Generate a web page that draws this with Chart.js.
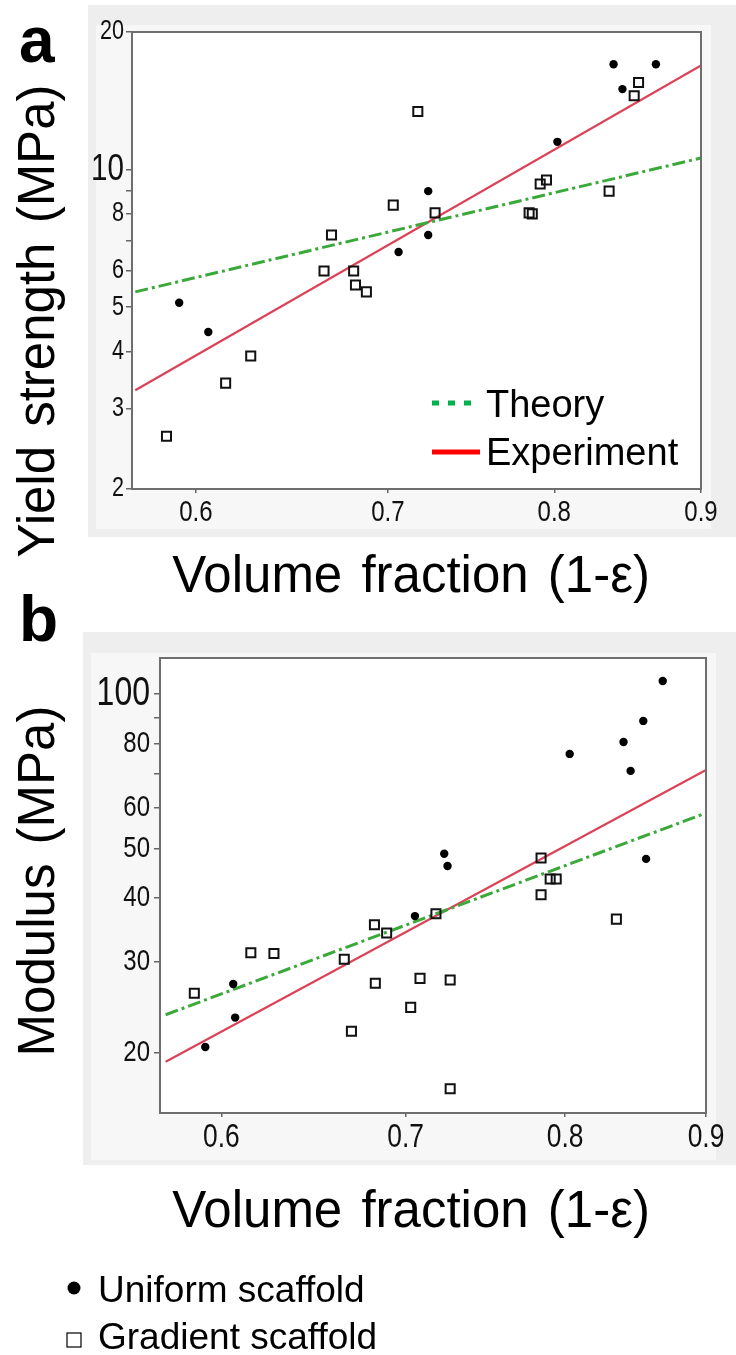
<!DOCTYPE html>
<html>
<head>
<meta charset="utf-8">
<script src="https://cdn.jsdelivr.net/npm/chart.js@4.4.1/dist/chart.umd.min.js"></script>
<style>
  html, body { margin: 0; padding: 0; background: #fff; }
  body { width: 736px; height: 1355px; position: relative; overflow: hidden; }
  .box { position: absolute; left: 0; width: 736px; }
</style>
</head>
<body>
<div class="box" style="top:0;height:610px"><canvas id="chartA" width="736" height="610"></canvas></div>
<div class="box" style="top:590px;height:765px"><canvas id="chartB" width="736" height="765"></canvas></div>
<script>
// x axis (log), shared by both panels
const xTicks = [0.6, 0.7, 0.8, 0.9];

// panel a: yield strength
const aYTicks = [2, 3, 4, 5, 6, 7, 8, 9, 10, 20];
const aYLabels = [2, 3, 4, 5, 6, 8, 10, 20];
const aUniformX = [0.839, 0.868, 0.845, 0.802, 0.723, 0.723, 0.706, 0.592, 0.606];
const aUniformY = [17.0, 17.0, 15.0, 11.5, 8.97, 7.19, 6.60, 5.11, 4.41];
const aGradientX = [0.856, 0.853, 0.717, 0.795, 0.791, 0.836, 0.703, 0.727, 0.784, 0.786, 0.669, 0.665, 0.681, 0.682, 0.688, 0.627, 0.6145, 0.586];
const aGradientY = [15.5, 14.5, 13.4, 9.49, 9.30, 8.97, 8.36, 8.04, 8.04, 8.0, 7.19, 6.0, 6.0, 5.59, 5.40, 3.91, 3.41, 2.61];
const aLineX = [0.5715, 0.9];
const aTheoryY = [5.40, 10.6];
const aExpY = [3.29, 16.9];

// panel b: modulus
const bYTicks = [20, 30, 40, 50, 60, 70, 80, 90, 100];
const bYLabels = [20, 30, 40, 50, 60, 80, 100];
const bUniformX = [0.868, 0.854, 0.840, 0.803, 0.845, 0.723, 0.725, 0.856, 0.7055, 0.606, 0.607, 0.592];
const bUniformY = [106, 88.6, 80.6, 76.4, 70.8, 48.8, 46.2, 47.7, 36.9, 27.2, 23.4, 20.5];
const bGradientX = [0.784, 0.794, 0.790, 0.784, 0.835, 0.718, 0.682, 0.689, 0.665, 0.615, 0.627, 0.5866, 0.6825, 0.7085, 0.7266, 0.703, 0.669, 0.7266];
const bGradientY = [47.9, 43.6, 43.6, 40.6, 36.4, 37.3, 35.5, 34.2, 30.4, 31.3, 31.2, 26.1, 27.3, 27.9, 27.7, 24.5, 22.0, 17.0];
const bLineX = [0.5727, 0.9];
const bTheoryY = [23.7, 58.6];
const bExpY = [19.2, 71.1];

const arial = "'Liberation Sans', Arial, sans-serif";

function pts(xs, ys) {
    return xs.map((x, i) => ({ x: x, y: ys[i] }));
}

const uniformStyle = { pointStyle: 'circle', pointRadius: 4.2, backgroundColor: '#000', borderColor: '#000', borderWidth: 0, showLine: false };
const gradientStyle = { pointStyle: 'rect', pointRadius: 6.4, backgroundColor: 'rgba(0,0,0,0)', borderColor: '#111', borderWidth: 2, showLine: false };
const theoryStyle = { showLine: true, pointRadius: 0, borderColor: '#3aa93a', borderWidth: 3, borderDash: [13, 4, 3, 4], keyColor: '#00b050', keyDash: [7, 9] };
const expStyle = { showLine: true, pointRadius: 0, borderColor: '#dc4257', borderWidth: 2.2, keyColor: '#ff0000', keyDash: [] };

function datasets(ux, uy, gx, gy, lx, ty, ey) {
    return [
        Object.assign({ label: 'Uniform scaffold', data: pts(ux, uy) }, uniformStyle),
        Object.assign({ label: 'Gradient scaffold', data: pts(gx, gy) }, gradientStyle),
        Object.assign({ label: 'Theory', data: pts(lx, ty) }, theoryStyle),
        Object.assign({ label: 'Experiment', data: pts(lx, ey) }, expStyle)
    ];
}

// tick labels are drawn by the decor plugin in a narrow face
function scales(c) {
    return {
        x: {
            type: 'logarithmic', min: c.xMin, max: 0.9,
            afterBuildTicks: s => { s.ticks = xTicks.map(v => ({ value: v })); },
            afterFit: s => { s.height = 50; },
            border: { display: false },
            grid: { drawOnChartArea: false, drawTicks: true, tickLength: 4, color: '#666', lineWidth: 1.5 },
            ticks: { display: false, autoSkip: false, callback: v => v.toFixed(1) }
        },
        y: {
            type: 'logarithmic', min: c.yMin, max: c.yMax,
            afterBuildTicks: s => { s.ticks = c.yTicks.map(v => ({ value: v })); },
            afterFit: s => { s.width = c.yWidth; },
            border: { display: false },
            grid: { drawOnChartArea: false, drawTicks: true, tickLength: 6, color: '#666', lineWidth: 1.5 },
            ticks: { display: false, autoSkip: false, callback: v => c.yLabels.includes(v) ? String(v) : '' }
        }
    };
}

function narrowText(ctx, text, x, y, size, align) {
    ctx.save();
    ctx.translate(x, y);
    ctx.scale(0.8, 1);
    ctx.font = size + 'px ' + arial;
    ctx.textAlign = align;
    ctx.textBaseline = 'middle';
    ctx.fillText(text, 0, 0);
    ctx.restore();
}

// panels, frame, tick labels, titles and keys
const decor = {
    id: 'decor',
    beforeDraw(chart, args, o) {
        const ctx = chart.ctx, a = chart.chartArea;
        ctx.save();
        ctx.fillStyle = '#eeeeee';
        ctx.fillRect(o.outer[0], o.outer[1], o.outer[2], o.outer[3]);
        ctx.fillStyle = '#f7f7f7';
        ctx.fillRect(o.inner[0], o.inner[1], o.inner[2], o.inner[3]);
        ctx.fillStyle = '#fff';
        ctx.fillRect(a.left, a.top, a.width, a.height);
        ctx.restore();
    },
    afterDraw(chart, args, o) {
        const ctx = chart.ctx, a = chart.chartArea;
        const ds = chart.data.datasets;
        const xs = chart.scales.x, ys = chart.scales.y;
        ctx.save();
        ctx.strokeStyle = '#6e6e6e';
        ctx.lineWidth = 2;
        ctx.strokeRect(a.left, a.top, a.width, a.height);

        ctx.fillStyle = '#111';
        xs.ticks.forEach(t => {
            narrowText(ctx, t.label, xs.getPixelForValue(t.value), a.bottom + o.xLabelGap, o.xFont, 'center');
        });
        ys.ticks.forEach(t => {
            if (!t.label) return;
            const size = t.value === o.yBig ? o.yBigFont : o.yFont;
            narrowText(ctx, t.label, a.left - o.yLabelGap, ys.getPixelForValue(t.value), size, 'right');
        });

        ctx.fillStyle = '#000';
        ctx.font = 'bold 64px ' + arial;
        ctx.textAlign = 'left';
        ctx.textBaseline = 'alphabetic';
        ctx.fillText(o.letter, o.letterPos[0], o.letterPos[1]);

        ctx.font = '51px ' + arial;
        ctx.wordSpacing = '5px';
        ctx.textAlign = 'center';
        ctx.fillText(o.xTitle, o.xTitlePos[0], o.xTitlePos[1]);
        ctx.save();
        ctx.translate(o.yTitlePos[0], o.yTitlePos[1]);
        ctx.rotate(-Math.PI / 2);
        ctx.fillText(o.yTitle, 0, 0);
        ctx.restore();
        ctx.wordSpacing = '0px';

        // line key inside the plot
        if (o.lineKey) {
            ctx.textAlign = 'left';
            ctx.font = '38px ' + arial;
            o.lineKey.forEach(k => {
                const d = ds[k.index];
                ctx.strokeStyle = d.keyColor;
                ctx.lineWidth = 5;
                ctx.setLineDash(d.keyDash);
                ctx.beginPath();
                ctx.moveTo(k.x, k.lineY);
                ctx.lineTo(k.x + 48, k.lineY);
                ctx.stroke();
                ctx.setLineDash([]);
                ctx.fillStyle = '#000';
                ctx.fillText(d.label, k.x + 54, k.textY);
            });
        }

        // marker key below the figure
        if (o.pointKey) {
            ctx.textAlign = 'left';
            ctx.font = '37px ' + arial;
            o.pointKey.forEach(k => {
                const d = ds[k.index];
                ctx.fillStyle = '#000';
                ctx.strokeStyle = '#000';
                if (d.pointStyle === 'circle') {
                    ctx.beginPath();
                    ctx.arc(74, k.markY, 6.5, 0, Math.PI * 2);
                    ctx.fill();
                } else {
                    ctx.lineWidth = 1.2;
                    ctx.strokeRect(67, k.markY - 7, 14, 14);
                }
                ctx.fillText(d.label, 98, k.textY);
            });
        }
        ctx.restore();
    }
};

function build(id, data, sc, pad, deco) {
    new Chart(document.getElementById(id), {
        type: 'scatter',
        data: { datasets: data },
        options: {
            responsive: false,
            animation: false,
            devicePixelRatio: 1,
            layout: { padding: pad },
            scales: sc,
            plugins: { legend: { display: false }, tooltip: { enabled: false }, decor: deco }
        },
        plugins: [decor]
    });
}

build('chartA',
    datasets(aUniformX, aUniformY, aGradientX, aGradientY, aLineX, aTheoryY, aExpY),
    scales({ xMin: 0.5715, yMin: 2, yMax: 20, yTicks: aYTicks, yLabels: aYLabels, yWidth: 60 }),
    { left: 72, top: 32, right: 35, bottom: 610 - 489 - 50 },
    {
        outer: [88, 5, 648, 532], inner: [96, 25, 615, 504],
        xFont: 30, xLabelGap: 24, yFont: 27, yBig: 10, yBigFont: 37, yLabelGap: 8,
        letter: 'a', letterPos: [19, 62],
        xTitle: 'Volume fraction (1-\u03b5)', xTitlePos: [411, 592],
        yTitle: 'Yield strength (MPa)', yTitlePos: [54, 321],
        lineKey: [{ index: 2, x: 432, lineY: 403, textY: 417 }, { index: 3, x: 432, lineY: 452, textY: 465 }]
    });

build('chartB',
    datasets(bUniformX, bUniformY, bGradientX, bGradientY, bLineX, bTheoryY, bExpY),
    scales({ xMin: 0.5727, yMin: 15.25, yMax: 117.5, yTicks: bYTicks, yLabels: bYLabels, yWidth: 70 }),
    { left: 90, top: 68, right: 30, bottom: 765 - 523 - 50 },
    {
        outer: [83, 42, 653, 533], inner: [91, 63, 625, 507],
        xFont: 33, xLabelGap: 25, yFont: 30, yBig: 100, yBigFont: 40, yLabelGap: 10,
        letter: 'b', letterPos: [19, 51],
        xTitle: 'Volume fraction (1-\u03b5)', xTitlePos: [411, 637],
        yTitle: 'Modulus (MPa)', yTitlePos: [54, 291],
        pointKey: [{ index: 0, markY: 698, textY: 712 }, { index: 1, markY: 750, textY: 759 }]
    });
</script>
</body>
</html>
